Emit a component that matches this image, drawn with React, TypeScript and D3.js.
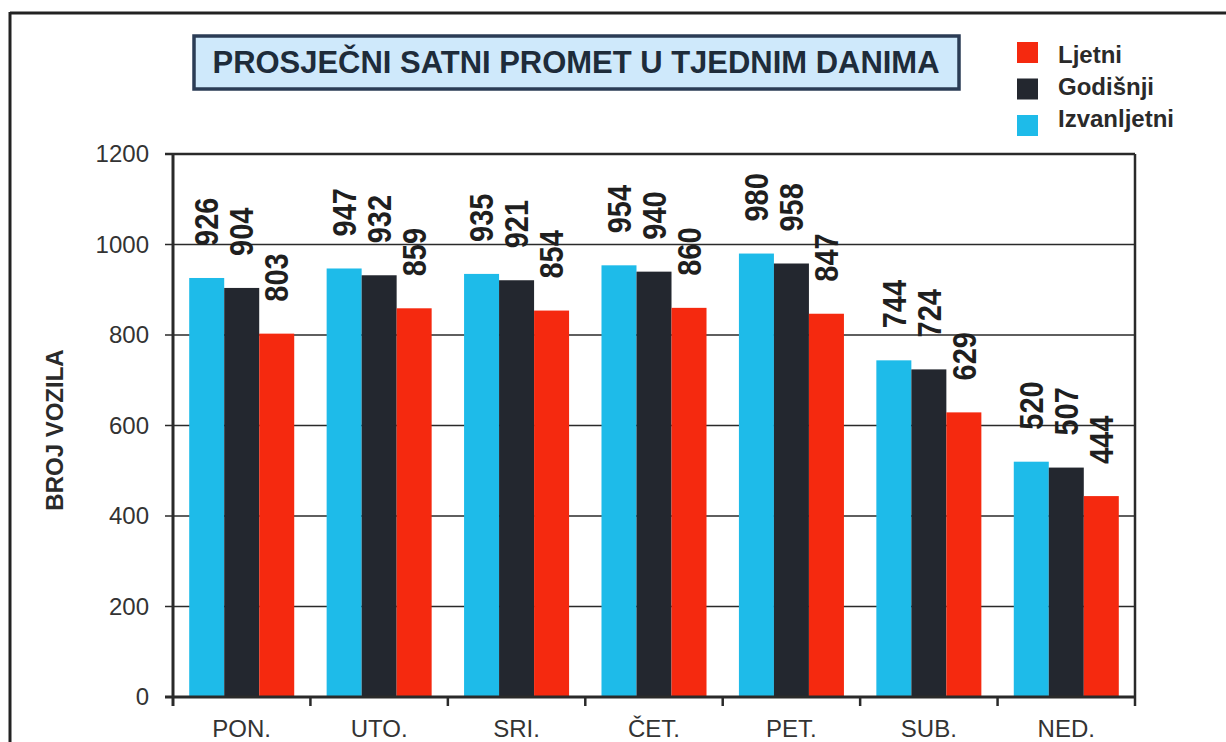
import React from "react";
import * as d3 from "d3";

const categories = ["PON.", "UTO.", "SRI.", "ČET.", "PET.", "SUB.", "NED."];
const izvanljetni = [926, 947, 935, 954, 980, 744, 520];
const godisnji = [904, 932, 921, 940, 958, 724, 507];
const ljetni = [803, 859, 854, 860, 847, 629, 444];
const seriesNames = ["Izvanljetni", "Godišnji", "Ljetni"];
const seriesColors = ["#1ebbe9", "#23272f", "#f5290f"];
const legendOrder = ["Ljetni", "Godišnji", "Izvanljetni"];
const yTicks = [0, 200, 400, 600, 800, 1000, 1200];
const title = "PROSJEČNI SATNI PROMET U TJEDNIM DANIMA";
const yTitle = "BROJ VOZILA";

const FONT = "'Liberation Sans', Arial, Helvetica, sans-serif";

export default function App() {
  const W = 1226, H = 742;
  const left = 173, right = 1135, top = 154, bottom = 697;
  const x0 = d3.scaleBand().domain(categories).range([left, right]).paddingInner(0).paddingOuter(0);
  const x1 = d3.scaleBand().domain(seriesNames).range([0, x0.bandwidth()]).paddingInner(0).paddingOuter(0.463);
  const y = d3.scaleLinear().domain([0, 1200]).range([bottom, top]);
  const values = [izvanljetni, godisnji, ljetni];
  const colorOf = (name: string) => seriesColors[seriesNames.indexOf(name)];

  return (
    <svg width={W} height={H} style={{ position: "absolute", left: 0, top: 0, background: "#fff" }} fontFamily={FONT}>
      <rect x={0} y={0} width={W} height={H} fill="#fff" />
      {/* outer frame */}
      <line x1={10} y1={13} x2={W} y2={13} stroke="#222" strokeWidth={3} />
      <line x1={10} y1={12} x2={10} y2={H} stroke="#222" strokeWidth={3} />

      {/* title box */}
      <rect x={194} y={36} width={765} height={53} fill="#cfe9fb" stroke="#2b3c55" strokeWidth={3.5} />
      <text x={576} y={73} textAnchor="middle" fontSize={31} fontWeight="bold" fill="#1e2c3a" textLength={727} lengthAdjust="spacingAndGlyphs">{title}</text>

      {/* legend */}
      {legendOrder.map((name, i) => (
        <g key={name}>
          <rect x={1017} y={42 + i * 36.5} width={21} height={21} fill={colorOf(name)} />
          <text x={1058} y={63 + i * 32} fontSize={24} fontWeight="bold" fill="#2a2a2a">{name}</text>
        </g>
      ))}

      {/* gridlines */}
      {yTicks.map((t) => (
        <g key={t}>
          <line x1={165} x2={right} y1={y(t)} y2={y(t)} stroke="#2a2a2a" strokeWidth={t === 1200 ? 2.5 : 1.5} />
          <text x={149} y={y(t)} dy="0.35em" textAnchor="end" fontSize={24} fill="#333">{t}</text>
        </g>
      ))}

      {/* bars */}
      {categories.map((c, ci) => (
        <g key={c} transform={`translate(${x0(c)},0)`}>
          {seriesNames.map((s, si) => (
            <rect key={s} x={x1(s)} y={y(values[si][ci])} width={x1.bandwidth()} height={bottom - y(values[si][ci])} fill={seriesColors[si]} />
          ))}
        </g>
      ))}

      {/* value labels */}
      {categories.map((c, ci) =>
        seriesNames.map((s, si) => {
          const cx = (x0(c) as number) + (x1(s) as number) + x1.bandwidth() / 2;
          const ty = y(values[si][ci]) - 32;
          return (
            <text key={c + s} transform={`translate(${cx},${ty}) scale(1.12,1) rotate(-90)`} dy="0.36em" fontSize={29} fontWeight="bold" fill="#1f1f1f">
              {values[si][ci]}
            </text>
          );
        })
      )}

      {/* plot frame */}
      <line x1={right} x2={right} y1={top} y2={bottom} stroke="#2a2a2a" strokeWidth={2.5} />
      <line x1={left} x2={left} y1={top - 1} y2={bottom + 1} stroke="#2a2a2a" strokeWidth={3} />
      <line x1={left - 8} x2={right + 1} y1={bottom} y2={bottom} stroke="#2a2a2a" strokeWidth={3} />

      {/* x ticks */}
      {categories.map((c, ci) => (
        <line key={c} x1={(x0(c) as number) + x0.bandwidth()} x2={(x0(c) as number) + x0.bandwidth()} y1={bottom} y2={bottom + 9} stroke="#2a2a2a" strokeWidth={2.5} />
      ))}
      <line x1={left} x2={left} y1={bottom} y2={bottom + 9} stroke="#2a2a2a" strokeWidth={3} />

      {/* x labels */}
      {categories.map((c) => (
        <text key={c} x={(x0(c) as number) + x0.bandwidth() / 2} y={737} textAnchor="middle" fontSize={24} fill="#333">{c}</text>
      ))}

      {/* y title */}
      <text transform={`translate(63,430) rotate(-90)`} textAnchor="middle" fontSize={24} fontWeight="bold" fill="#2a2a2a">{yTitle}</text>
    </svg>
  );
}
